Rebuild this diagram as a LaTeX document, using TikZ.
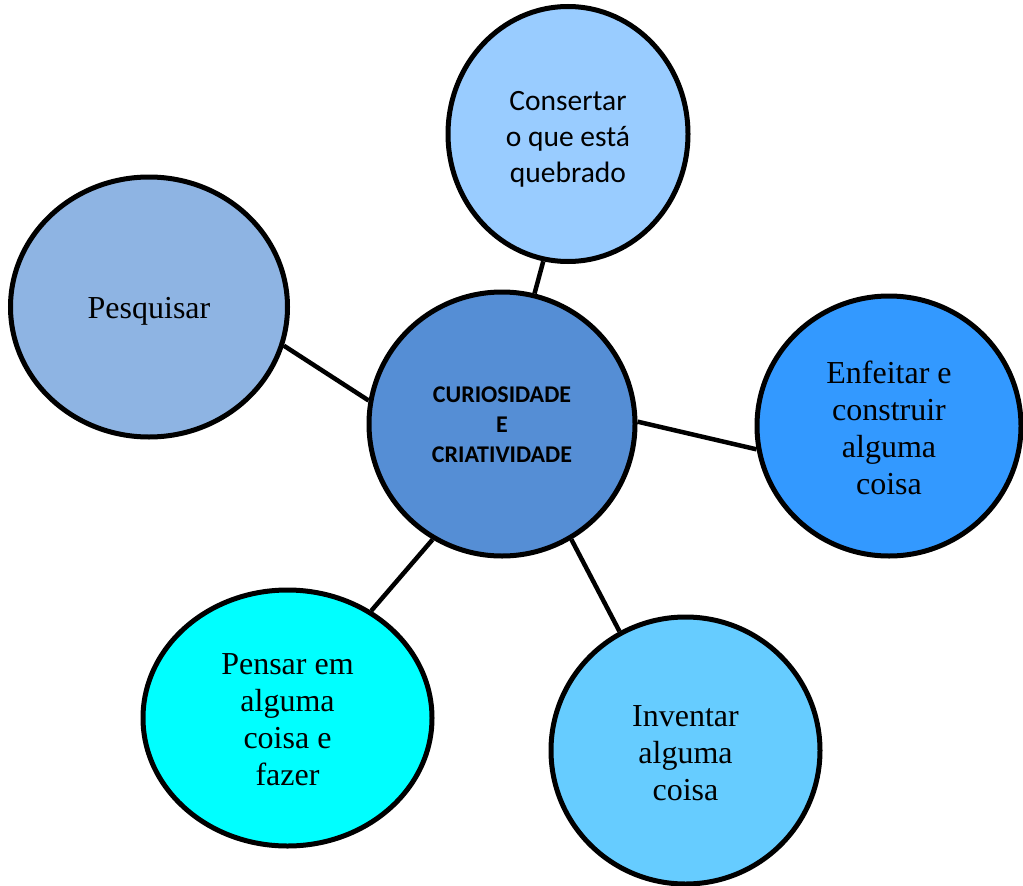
\documentclass[tikz,border=0pt]{standalone}
\usepackage{fontspec}
\setmainfont{Liberation Serif}
\newfontfamily\calibrilike{Carlito}
\usetikzlibrary{shapes.geometric}
\definecolor{hubblue}{HTML}{558ED5}
\definecolor{paleblue}{HTML}{99CCFF}
\definecolor{greyblue}{HTML}{8EB4E3}
\definecolor{brightblue}{HTML}{3399FF}
\definecolor{aquacyan}{HTML}{00FFFF}
\definecolor{skyblue}{HTML}{66CCFF}
\tikzset{
  bubble/.style={ellipse, draw=black, line width=5pt, inner sep=0pt, align=center,
    font=\fontsize{32}{37}\selectfont},
  label/.style={align=center, inner sep=0pt, font=\fontsize{32}{37}\selectfont},
  link/.style={line width=4.5pt}
}
\begin{document}
\begin{tikzpicture}[x=1pt,y=-1pt]
\useasboundingbox (0,0) rectangle (1023,886);
% circles
\node[bubble, fill=hubblue, minimum width=266pt, minimum height=264pt] (c) at (502,424) {};
\node[bubble, fill=paleblue, minimum width=240pt, minimum height=255pt] (top) at (568,134) {};
\node[bubble, fill=greyblue, minimum width=277pt, minimum height=260pt] (p) at (149,307) {};
\node[bubble, fill=brightblue, minimum width=264pt, minimum height=260pt] (e) at (889,426) {};
\node[bubble, fill=aquacyan, minimum width=289pt, minimum height=256pt] (f) at (287.5,718) {};
\node[bubble, fill=skyblue, minimum width=269pt, minimum height=267pt] (i) at (685.5,750.5) {};
% texts
\node[label, font=\calibrilike\bfseries\fontsize{24}{30}\selectfont] (ct) at (502,425)
  {CURIOSIDADE\\E\\CRIATIVIDADE};
\node[label, font=\calibrilike\fontsize{29.5}{36}\selectfont] (topt) at (568,139)
  {Consertar\\o que está\\quebrado};
\node[label] (pt) at (149,311) {Pesquisar};
\node[label] (et) at (889,428) {Enfeitar e\\construir\\alguma\\coisa};
\node[label] (ft) at (287.5,720) {Pensar em\\alguma\\coisa e\\fazer};
\node[label] (it) at (685.5,753) {Inventar\\alguma\\coisa};
% connectors
\draw[link] (c.76.6) -- (top.259.6);
\draw[link] (c.170.7) -- (p.344);
\draw[link] (c.1) -- (e.190.5);
\draw[link] (c.239.6) -- (f.52);
\draw[link] (c.301.5) -- (i.119.7);
\end{tikzpicture}
\end{document}
